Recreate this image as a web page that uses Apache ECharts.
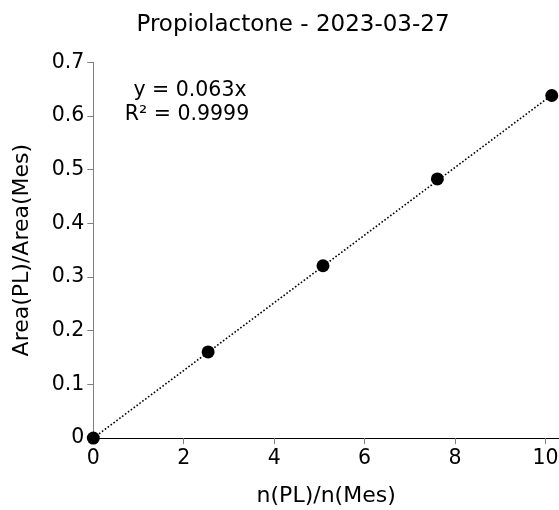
<!DOCTYPE html>
<html>
<head>
<meta charset="utf-8">
<script src="https://cdn.jsdelivr.net/npm/echarts@6/dist/echarts.min.js"></script>
<style>html,body{margin:0;padding:0;background:#fff}#c{width:559px;height:510px}</style>
</head>
<body>
<div id="c"></div>
<script>
const xValues = [0, 2.54, 5.08, 7.61, 10.14];
const yValues = [0, 0.1604, 0.321, 0.4826, 0.638];
const trendSlope = 0.063;
const trendX = [0, 10.14];
const xTicks = [0, 2, 4, 6, 8, 10];
const yTicks = [0, 0.1, 0.2, 0.3, 0.4, 0.5, 0.6, 0.7];
const titleText = 'Propiolactone - 2023-03-27';
const equationLines = ['y = 0.063x', 'R² = 0.9999'];

const FONT = '"DejaVu Sans", sans-serif';
const FS = 20.5;
const NFS = 22;
const chart = echarts.init(document.getElementById('c'), null, {renderer: 'canvas'});
chart.setOption({
  animation: false,
  title: {
    text: titleText, left: 288, top: 9, textAlign: 'center',
    textStyle: {fontFamily: FONT, fontSize: 23, fontWeight: 'normal', color: '#000'}
  },
  grid: {left: 93.3, right: 0, top: 62.2, bottom: 71.9, containLabel: false, outerBoundsMode: 'none'},
  xAxis: {
    type: 'value', min: 0, max: 10.3, interval: 2,
    name: 'n(PL)/n(Mes)', nameLocation: 'middle', nameGap: 47,
    nameTextStyle: {fontFamily: FONT, fontSize: NFS, color: '#000'},
    axisLine: {show: true, onZero: false, lineStyle: {color: '#000', width: 1}},
    axisTick: {show: true, length: 6, lineStyle: {color: '#7f7f7f'}, customValues: xTicks},
    axisLabel: {fontFamily: FONT, fontSize: FS, color: '#000', margin: 10, customValues: xTicks},
    splitLine: {show: false}
  },
  yAxis: {
    type: 'value', min: 0, max: 0.7, interval: 0.1,
    name: 'Area(PL)/Area(Mes)', nameLocation: 'middle', nameGap: 60, nameRotate: 90,
    nameTextStyle: {fontFamily: FONT, fontSize: NFS, color: '#000'},
    axisLine: {show: true, lineStyle: {color: '#7f7f7f', width: 1}},
    axisTick: {show: true, length: 6, lineStyle: {color: '#7f7f7f'}, customValues: yTicks},
    axisLabel: {fontFamily: FONT, fontSize: FS, color: '#000', margin: 9, customValues: yTicks,
      formatter: v => (Math.round(v * 10) / 10).toString()},
    splitLine: {show: false}
  },
  graphic: [
    {type: 'text', x: 190, y: 91, style: {text: equationLines[0], fontFamily: FONT, fontSize: FS, fill: '#000', align: 'center', verticalAlign: 'middle'}},
    {type: 'text', x: 187, y: 115, style: {text: equationLines[1], fontFamily: FONT, fontSize: FS, fill: '#000', align: 'center', verticalAlign: 'middle'}}
  ],
  series: [
    {
      type: 'line', data: trendX.map(x => [x, trendSlope * x]), symbol: 'none',
      lineStyle: {color: '#000', width: 1.6, type: [1.6, 2]}, z: 1
    },
    {
      type: 'scatter', data: xValues.map((x, i) => [x, yValues[i]]),
      symbol: 'circle', symbolSize: 13, itemStyle: {color: '#000', opacity: 1}, z: 2
    }
  ]
});
</script>
</body>
</html>
